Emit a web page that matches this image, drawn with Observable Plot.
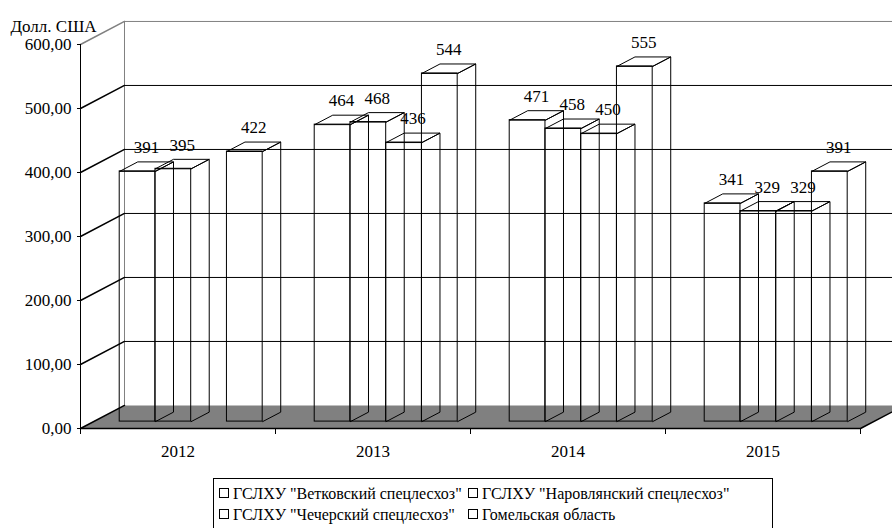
<!DOCTYPE html>
<html>
<head>
<meta charset="utf-8">
<script src="https://cdn.jsdelivr.net/npm/d3@7"></script>
<script src="https://cdn.jsdelivr.net/npm/@observablehq/plot@0.6"></script>
<style>
  html, body { margin: 0; padding: 0; background: #fff; overflow: hidden; }
  body { width: 892px; height: 528px; font-family: 'Liberation Serif', 'Times New Roman', Times, 'DejaVu Serif', serif; }
  #legend {
    position: absolute; left: 213px; top: 478px; width: 560px; height: 60px;
    border: 1px solid #000; box-sizing: border-box; font-size: 16px; color: #000;
    font-family: 'Liberation Serif', 'Times New Roman', Times, 'DejaVu Serif', serif;
  }
  .item { position: absolute; white-space: nowrap; line-height: 18px; }
  .sw { display: inline-block; width: 8px; height: 8px; border: 1px solid #000; margin-right: 4px; vertical-align: 1px; }
  svg text { font-family: 'Liberation Serif', 'Times New Roman', Times, 'DejaVu Serif', serif; }
</style>
</head>
<body>
<div id="chart"></div>
<div id="legend"></div>
<script>
// ---- data ----
const years = ["2012", "2013", "2014", "2015"];
const seriesNames = [
  'ГСЛХУ "Ветковский спецлесхоз"',
  'ГСЛХУ "Наровлянский спецлесхоз"',
  'ГСЛХУ "Чечерский спецлесхоз"',
  'Гомельская область'
];
const vetkovsky = [391, 464, 471, 341];
const narovlyansky = [395, 468, 458, 329];
const checherski = [null, 436, 450, 329];
const gomelRegion = [422, 544, 555, 391];
const yTicks = [0, 100, 200, 300, 400, 500, 600];
const yLabel = "Долл. США";

const seriesValues = [vetkovsky, narovlyansky, checherski, gomelRegion];

// ---- 3D oblique projection settings (x in category units, y in value units) ----
const DX = 0.2256, DY = 36;    // full depth offset
const Z0 = 0.30, Z1 = 0.71;    // bar front / back depth
const BW = 0.1833, PAD = 0.5 - 2 * 0.1833;
const yMax = yTicks[yTicks.length - 1];
const nCat = years.length;
const FONT = "'Liberation Serif', 'Times New Roman', Times, 'DejaVu Serif', serif";

// bars
const bars = [];
years.forEach((yr, c) => {
  seriesValues.forEach((vals, s) => {
    const v = vals[c];
    if (v == null) return;
    const x0 = c + PAD + s * BW, x1 = x0 + BW;
    bars.push({id: `${c}-${s}`, x0, x1, v});
  });
});
const fronts = bars.map(b => ({x1: b.x0 + Z0 * DX, x2: b.x1 + Z0 * DX, y1: Z0 * DY, y2: b.v + Z0 * DY}));
const faces = [];
bars.forEach(b => {
  const top = [[b.x0 + Z0 * DX, b.v + Z0 * DY], [b.x1 + Z0 * DX, b.v + Z0 * DY], [b.x1 + Z1 * DX, b.v + Z1 * DY], [b.x0 + Z1 * DX, b.v + Z1 * DY], [b.x0 + Z0 * DX, b.v + Z0 * DY]];
  const side = [[b.x1 + Z0 * DX, Z0 * DY], [b.x1 + Z1 * DX, Z1 * DY], [b.x1 + Z1 * DX, b.v + Z1 * DY], [b.x1 + Z0 * DX, b.v + Z0 * DY]];
  top.forEach(([x, y]) => faces.push({f: b.id + "t", x, y}));
  side.forEach(([x, y]) => faces.push({f: b.id + "s", x, y}));
});
const zm = (Z0 + Z1) / 2;
const labels = bars.map(b => ({x: (b.x0 + b.x1) / 2 + zm * DX, y: b.v + zm * DY, text: String(b.v)}));

// walls
const floor = [[0, 0], [nCat, 0], [nCat + DX, DY], [DX, DY]].map(([x, y]) => ({x, y}));
const innerTicks = yTicks.filter(t => t > 0 && t < yMax);
const backGrid = innerTicks.map(t => ({x1: DX, x2: nCat + DX, y: t + DY}));
const sideLines = yTicks.map(t => [{k: t, x: 0, y: t}, {k: t, x: DX, y: t + DY}]).flat();
const fmt = d => d.toFixed(2).replace(".", ",");

const plot = Plot.plot({
  width: 892,
  height: 472,
  marginLeft: 80,
  marginRight: 32,
  marginTop: 44,
  marginBottom: 44,
  x: {domain: [0, nCat]},
  y: {domain: [0, yMax]},
  style: {fontFamily: FONT, fontSize: "17px", color: "#000", background: "#fff", overflow: "hidden"},
  marks: [
    // floor
    Plot.line(floor.concat([floor[0]]), {x: "x", y: "y", fill: "#808080", stroke: "none"}),
    // back wall gridlines
    Plot.ruleY(backGrid, {x1: "x1", x2: "x2", y: "y", stroke: "#000", strokeWidth: 1}),
    // back wall border (top + left)
    Plot.ruleY([yMax + DY], {x1: DX, x2: nCat + DX, stroke: "#808080"}),
    Plot.ruleX([DX], {y1: DY, y2: yMax + DY, stroke: "#808080"}),
    // left wall lines
    Plot.line(sideLines, {x: "x", y: "y", z: "k", stroke: d => d.k === yMax ? "#808080" : "#000"}),
    // floor right edge
    Plot.line([{x: nCat, y: 0}, {x: nCat + DX, y: DY}], {x: "x", y: "y", stroke: "#000"}),
    // bars: front faces + top/side faces
    Plot.rect(fronts, {x1: "x1", x2: "x2", y1: "y1", y2: "y2", fill: "none", stroke: "#000", strokeWidth: 1}),
    Plot.line(faces, {x: "x", y: "y", z: "f", stroke: "#000", strokeWidth: 1, strokeLinejoin: "miter"}),
    // data labels
    Plot.text(labels, {x: "x", y: "y", text: "text", dy: -19, fontSize: 17, fontFamily: FONT}),
    // axes
    Plot.ruleX([0], {y1: 0, y2: yMax, stroke: "#000"}),
    Plot.ruleY([0], {x1: 0, x2: nCat, stroke: "#000", strokeWidth: 1.5}),
    Plot.axisY({ticks: yTicks, tickSize: 3, tickPadding: 6, tickFormat: fmt, label: null, fontSize: 17, fontFamily: FONT}),
    Plot.axisX({ticks: d3.range(nCat + 1), tickSize: 6, tickFormat: () => "", label: null}),
    Plot.axisX({ticks: years.map((_, i) => i + 0.5), tickSize: 0, tickPadding: 16, tickFormat: d => years[Math.floor(d)], label: null, fontSize: 17, fontFamily: FONT}),
    Plot.text([yLabel], {frameAnchor: "top-left", textAnchor: "start", lineAnchor: "middle", dx: -70, dy: -18, fontSize: 17, fontFamily: FONT})
  ]
});
document.getElementById("chart").appendChild(plot);

// legend (row-wise order, two columns)
const legend = document.getElementById("legend");
const colX = [5, 254];
seriesNames.forEach((name, i) => {
  const el = document.createElement("div");
  el.className = "item";
  el.style.left = colX[i % 2] + "px";
  el.style.top = (6 + Math.floor(i / 2) * 21) + "px";
  el.innerHTML = '<span class="sw"></span>';
  el.appendChild(document.createTextNode(name));
  legend.appendChild(el);
});
</script>
</body>
</html>
